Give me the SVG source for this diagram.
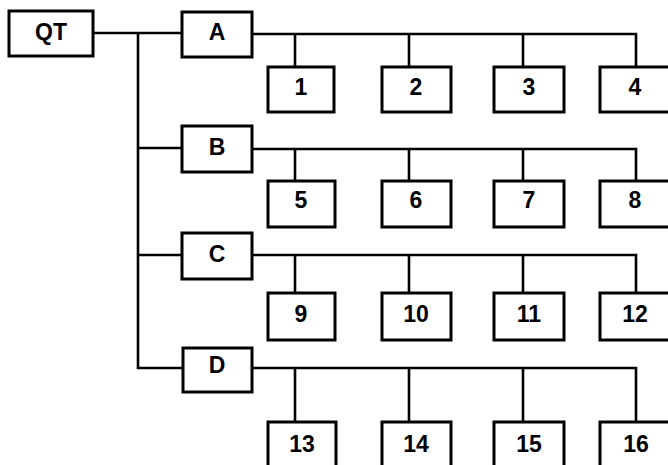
<svg xmlns="http://www.w3.org/2000/svg" width="668" height="465" viewBox="0 0 668 465">
<style>
.b{fill:#fff;stroke:#000;stroke-width:3}
.t{font-family:"Liberation Sans",Arial,sans-serif;font-size:23px;font-weight:bold;text-anchor:middle;fill:#000}
.c{fill:none;stroke:#000;stroke-width:2.6;stroke-linejoin:miter}
</style>
<rect width="668" height="465" fill="#fff"/>
<g id="connectors">
<path class="c" d="M93 33H182M138 33V368H183M138 148H182M138 255H182"/>
<path class="c" d="M252 34H636V67M295 34V67M409 34V67M523 34V67"/>
<path class="c" d="M252 149H636V181M295 149V181M409 149V181M523 149V181"/>
<path class="c" d="M252 255H636V293M295 255V293M409 255V293M523 255V293"/>
<path class="c" d="M252 368H636V422M295 368V422M409 368V422M523 368V422"/>
</g>
<g id="QT"><rect class="b" x="9" y="11" width="84" height="45"/><text class="t" x="51" y="40">QT</text></g>
<g id="A"><rect class="b" x="182" y="12" width="70" height="45"/><text class="t" x="217" y="40">A</text></g>
<g id="B"><rect class="b" x="182" y="126" width="70" height="46"/><text class="t" x="217" y="155">B</text></g>
<g id="C"><rect class="b" x="182" y="233" width="70" height="46"/><text class="t" x="217" y="262">C</text></g>
<g id="D"><rect class="b" x="183" y="348" width="69" height="44"/><text class="t" x="217" y="373">D</text></g>
<g id="n1"><rect class="b" x="268" y="67" width="66" height="45"/><text class="t" x="301" y="95">1</text></g>
<g id="n2"><rect class="b" x="382" y="67" width="69" height="45"/><text class="t" x="416" y="95">2</text></g>
<g id="n3"><rect class="b" x="494" y="67" width="70" height="45"/><text class="t" x="529" y="95">3</text></g>
<g id="n4"><rect class="b" x="600" y="67" width="72" height="45"/><text class="t" x="635" y="95">4</text></g>
<g id="n5"><rect class="b" x="268" y="181" width="67" height="46"/><text class="t" x="301" y="208">5</text></g>
<g id="n6"><rect class="b" x="382" y="181" width="69" height="46"/><text class="t" x="416" y="208">6</text></g>
<g id="n7"><rect class="b" x="494" y="181" width="70" height="46"/><text class="t" x="529" y="208">7</text></g>
<g id="n8"><rect class="b" x="600" y="181" width="72" height="46"/><text class="t" x="635" y="208">8</text></g>
<g id="n9"><rect class="b" x="268" y="293" width="67" height="47"/><text class="t" x="301" y="322">9</text></g>
<g id="n10"><rect class="b" x="382" y="293" width="69" height="47"/><text class="t" x="416" y="322">10</text></g>
<g id="n11"><rect class="b" x="494" y="293" width="70" height="47"/><text class="t" x="529" y="322">11</text></g>
<g id="n12"><rect class="b" x="600" y="293" width="72" height="47"/><text class="t" x="635" y="322">12</text></g>
<g id="n13"><rect class="b" x="268" y="422" width="68" height="50"/><text class="t" x="302" y="452">13</text></g>
<g id="n14"><rect class="b" x="382" y="422" width="69" height="50"/><text class="t" x="416" y="452">14</text></g>
<g id="n15"><rect class="b" x="494" y="422" width="70" height="50"/><text class="t" x="529" y="452">15</text></g>
<g id="n16"><rect class="b" x="600" y="422" width="72" height="50"/><text class="t" x="636" y="452">16</text></g>
</svg>
